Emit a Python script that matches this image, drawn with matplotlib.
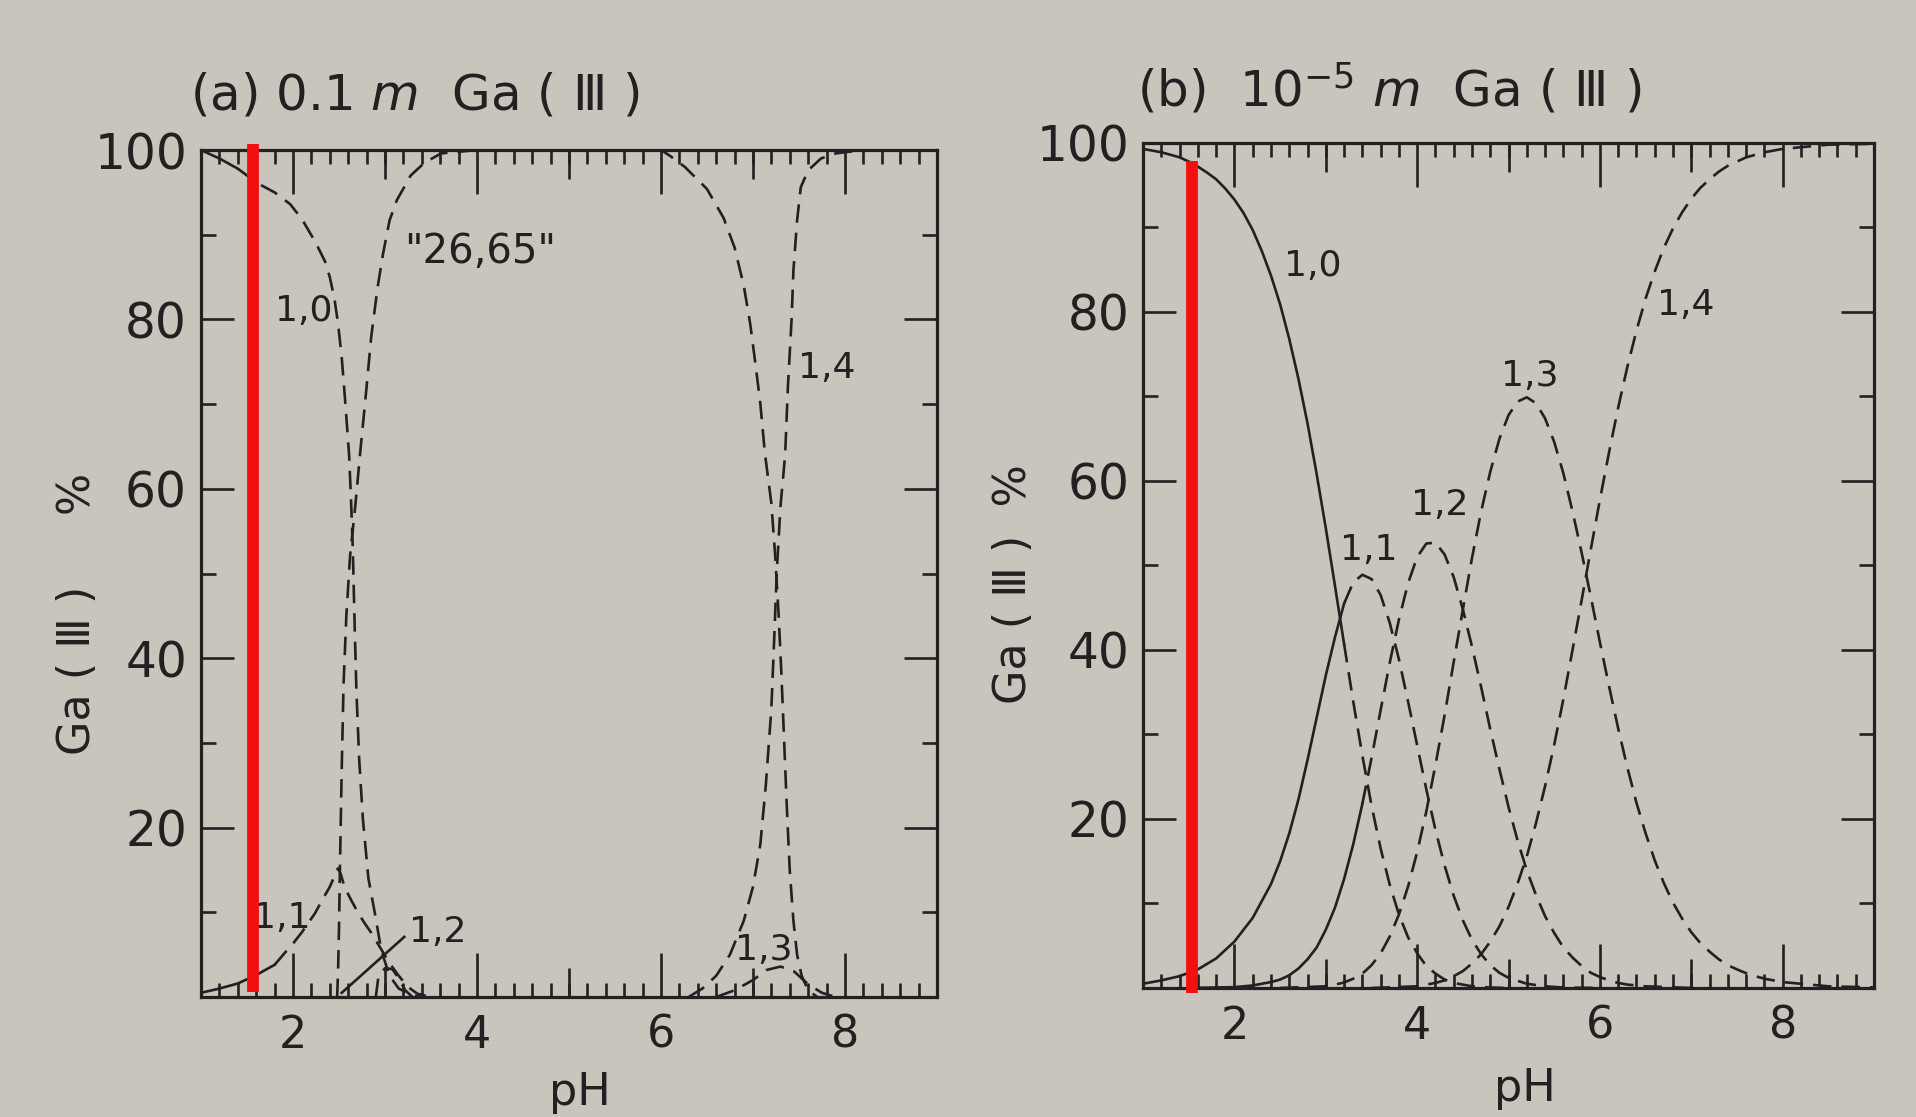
import numpy as np
import matplotlib
matplotlib.use("Agg")
import matplotlib.pyplot as plt
from matplotlib.ticker import FixedLocator, MultipleLocator, NullLocator

plt.rcParams['font.family'] = ['DejaVu Sans']
plt.rcParams['mathtext.fontset'] = 'dejavusans'

PAPER = '#c9c5bd'
INK = '#222020'
LW = 1.9
DASH = (0, (7.0, 3.8))

# ---------------- (a) 0.1 m Ga(III) ----------------
a10_ph = [1.0, 1.2, 1.4, 1.61, 1.8, 1.97, 2.1, 2.25, 2.35, 2.4, 2.45, 2.49, 2.53, 2.57,
          2.61, 2.63, 2.65, 2.67, 2.69, 2.72, 2.76, 2.82, 2.89, 2.96, 3.05, 3.15, 3.3, 3.4]
a10_pct = [100.0, 99.0, 97.8, 96.1, 95.0, 93.6, 91.8, 89.0, 86.8, 85.0, 82.5, 79.5, 75.5,
           70.0, 64.0, 59.0, 53.0, 44.0, 36.0, 28.0, 21.0, 14.0, 9.9, 5.5, 2.5, 1.0, 0.2, 0.0]
a10_solid_to = 1.4

a11_ph = [1.0, 1.2, 1.4, 1.6, 1.8, 1.91, 2.0, 2.1, 2.24, 2.32, 2.4, 2.46, 2.49, 2.52,
          2.56, 2.63, 2.71, 2.78, 2.85, 2.95, 3.05, 3.15, 3.25, 3.35, 3.5]
a11_pct = [0.5, 1.0, 1.6, 2.6, 3.8, 5.2, 6.3, 7.7, 9.9, 11.5, 13.0, 14.5, 15.2, 14.5,
           13.0, 11.5, 9.9, 8.7, 7.6, 5.8, 4.0, 2.5, 1.2, 0.4, 0.0]
a11_solid_to = 1.8

a12_line_ph = [2.53, 3.21]
a12_line_pct = [0.5, 7.1]
a12_ph = [2.9, 2.93, 3.0, 3.08, 3.15, 3.22, 3.3]
a12_pct = [0.0, 2.5, 3.4, 3.3, 2.2, 0.8, 0.0]

a13_ph = [6.6, 6.8, 7.0, 7.15, 7.3, 7.45, 7.6, 7.75, 7.9]
a13_pct = [0.0, 0.8, 2.0, 3.2, 3.6, 3.0, 1.5, 0.5, 0.0]

a14_ph = [6.3, 6.45, 6.6, 6.75, 6.9, 7.0, 7.08, 7.14, 7.2, 7.23, 7.26, 7.3, 7.35,
          7.38, 7.42, 7.44, 7.48, 7.52, 7.6, 7.74, 7.9, 8.2, 9.0]
a14_pct = [0.0, 1.0, 2.5, 5.0, 9.0, 13.0, 18.0, 25.0, 34.0, 42.0, 50.4, 58.0, 64.0,
           72.0, 80.0, 85.8, 91.7, 95.6, 97.6, 99.0, 99.6, 100.0, 100.0]

poly_ph = [2.48, 2.49, 2.5, 2.51, 2.53, 2.55, 2.58, 2.62, 2.68, 2.73, 2.8, 2.85, 2.92,
           2.98, 3.05, 3.13, 3.28, 3.43, 3.61, 4.0, 6.0, 6.1, 6.26, 6.5, 6.68, 6.8,
           6.9, 6.97, 7.03, 7.08, 7.13, 7.2, 7.24, 7.28, 7.31, 7.34, 7.37, 7.4, 7.44,
           7.48, 7.53, 7.6, 7.7]
poly_pct = [0.0, 3.0, 8.0, 15.0, 27.0, 37.0, 45.0, 52.0, 58.3, 64.2, 72.0, 77.9, 83.8,
            87.8, 91.7, 94.1, 97.0, 98.5, 99.6, 100.0, 100.0, 99.3, 98.0, 95.4, 92.0, 88.5,
            84.0, 79.5, 74.5, 70.1, 64.2, 58.3, 52.4, 45.0, 38.0, 30.0, 22.0, 15.0, 9.0,
            5.0, 2.5, 0.8, 0.0]

# ---------------- (b) 1e-5 m Ga(III) ----------------
b10_ph = [1.0, 1.1, 1.2, 1.3, 1.4, 1.5, 1.6, 1.7, 1.8, 1.9, 2.0, 2.1, 2.2, 2.3, 2.4,
          2.5, 2.6, 2.7, 2.8, 2.9, 3.0, 3.1, 3.2, 3.3, 3.4, 3.5, 3.6, 3.7, 3.8, 3.9,
          4.0, 4.1, 4.2, 4.3, 4.4, 4.5, 4.6, 4.8, 5.0]
b10_pct = [99.3, 99.1, 98.9, 98.6, 98.3, 97.8, 97.2, 96.5, 95.7, 94.6, 93.3, 91.7, 89.7,
           87.2, 84.3, 80.9, 76.8, 72.1, 66.8, 60.8, 54.4, 47.6, 40.7, 33.9, 27.5, 21.6,
           16.5, 12.2, 8.7, 6.0, 4.1, 2.6, 1.7, 1.0, 0.6, 0.4, 0.2, 0.05, 0.0]
b10_solid_to = 3.2

b11_ph = [1.0, 1.2, 1.4, 1.6, 1.8, 2.0, 2.2, 2.4, 2.5, 2.6, 2.7, 2.8, 2.9, 3.0, 3.1,
          3.2, 3.3, 3.4, 3.5, 3.6, 3.7, 3.8, 3.9, 4.0, 4.1, 4.2, 4.3, 4.4, 4.5, 4.6,
          4.7, 4.8, 4.9, 5.0, 5.2, 5.4, 5.6, 6.0]
b11_pct = [0.5, 0.9, 1.4, 2.2, 3.5, 5.5, 8.3, 12.3, 15.0, 18.3, 22.3, 27.0, 32.0, 37.0,
           41.5, 45.5, 48.0, 48.9, 48.4, 46.5, 43.2, 38.9, 33.9, 28.7, 23.5, 18.7, 14.5,
           10.9, 8.0, 5.7, 4.0, 2.7, 1.8, 1.2, 0.5, 0.2, 0.05, 0.0]
b11_solid_to = 3.2

b12_ph = [1.5, 2.0, 2.2, 2.4, 2.5, 2.6, 2.7, 2.8, 2.9, 3.0, 3.1, 3.2, 3.3, 3.4, 3.5,
          3.6, 3.7, 3.8, 3.9, 4.0, 4.1, 4.2, 4.3, 4.4, 4.5, 4.6, 4.7, 4.8, 4.9, 5.0,
          5.1, 5.2, 5.3, 5.4, 5.5, 5.6, 5.7, 5.8, 5.9, 6.0, 6.1, 6.2, 6.3, 6.4, 6.5, 7.0]
b12_pct = [0.0, 0.1, 0.3, 0.7, 1.0, 1.5, 2.3, 3.4, 4.8, 6.9, 9.5, 12.9, 17.0, 21.8, 27.2,
           32.9, 38.5, 43.6, 47.9, 51.0, 52.6, 52.7, 51.3, 48.6, 44.8, 40.4, 35.6, 30.6,
           25.9, 21.4, 17.4, 13.9, 11.0, 8.5, 6.5, 4.8, 3.6, 2.6, 1.8, 1.3, 0.9, 0.6, 0.4,
           0.3, 0.2, 0.0]
b12_solid_to = 3.4

b13_ph = [2.5, 3.0, 3.1, 3.2, 3.3, 3.4, 3.5, 3.6, 3.7, 3.8, 3.9, 4.0, 4.1, 4.2, 4.3,
          4.4, 4.5, 4.6, 4.7, 4.8, 4.9, 5.0, 5.1, 5.2, 5.3, 5.4, 5.5, 5.6, 5.7, 5.8,
          5.9, 6.0, 6.1, 6.2, 6.3, 6.4, 6.5, 6.6, 6.7, 6.8, 6.9, 7.0, 7.1, 7.2, 7.3,
          7.4, 7.5, 7.6, 7.7, 7.8, 7.9, 8.0, 8.5, 9.0]
b13_pct = [0.0, 0.2, 0.4, 0.65, 1.1, 1.7, 2.7, 4.1, 6.1, 8.7, 12.0, 16.1, 20.9, 26.4,
           32.3, 38.6, 44.8, 50.9, 56.4, 61.1, 65.0, 67.8, 69.4, 69.9, 69.2, 67.4, 64.6,
           60.9, 56.4, 51.5, 46.3, 40.9, 35.7, 30.7, 26.1, 21.9, 18.3, 15.1, 12.4, 10.1,
           8.2, 6.6, 5.3, 4.3, 3.4, 2.7, 2.2, 1.75, 1.4, 1.1, 0.9, 0.7, 0.2, 0.07]

b14_ph = [3.5, 4.0, 4.1, 4.2, 4.3, 4.4, 4.5, 4.6, 4.7, 4.8, 4.9, 5.0, 5.1, 5.2, 5.3,
          5.4, 5.5, 5.6, 5.7, 5.8, 5.9, 6.0, 6.1, 6.2, 6.3, 6.4, 6.5, 6.6, 6.7, 6.8,
          6.9, 7.0, 7.1, 7.2, 7.3, 7.4, 7.5, 7.6, 7.7, 7.8, 7.9, 8.0, 8.5, 9.0]
b14_pct = [0.0, 0.2, 0.4, 0.6, 0.9, 1.4, 2.0, 2.9, 4.0, 5.5, 7.3, 9.6, 12.4, 15.6, 19.5,
           23.9, 28.8, 34.2, 40.0, 45.9, 51.9, 57.8, 63.4, 68.7, 73.5, 77.8, 81.6, 84.8,
           87.6, 89.9, 91.8, 93.4, 94.7, 95.7, 96.6, 97.3, 97.8, 98.3, 98.6, 98.9, 99.1,
           99.3, 99.8, 99.9]

# red marker lines (pH, lower %, upper %)
marker_a = (1.57, 0.6, 100.7)
marker_b = (1.53, -0.6, 97.9)


def draw_species(ax, ph, pct, solid_to=None):
    ph = np.asarray(ph)
    pct = np.asarray(pct)
    if solid_to is None:
        ax.plot(ph, pct, color=INK, lw=LW, ls=DASH)
        return
    s = ph <= solid_to
    d = ph >= solid_to
    ax.plot(ph[s], pct[s], color=INK, lw=LW)
    ax.plot(ph[d], pct[d], color=INK, lw=LW, ls=DASH)


def style_axes(ax):
    ax.set_facecolor(PAPER)
    ax.set_xlim(1, 9)
    ax.set_ylim(0, 100)
    for s in ax.spines.values():
        s.set_linewidth(2.3)
        s.set_color(INK)
    ax.xaxis.set_major_locator(FixedLocator([2, 4, 6, 8]))
    ax.xaxis.set_minor_locator(MultipleLocator(0.2))
    ax.yaxis.set_major_locator(FixedLocator([20, 40, 60, 80, 100]))
    ax.yaxis.set_minor_locator(MultipleLocator(10))

    # odd pH values get mid-length ticks top and bottom
    tw = ax.twiny()
    tw.set_xlim(1, 9)
    tw.xaxis.set_major_locator(FixedLocator([3, 5, 7]))
    tw.xaxis.set_minor_locator(NullLocator())
    tw.tick_params(axis='x', which='major', direction='in', length=21, width=1.9,
                   color=INK, top=True, bottom=True, labeltop=False, labelbottom=False)
    for s in tw.spines.values():
        s.set_visible(False)

    ax.tick_params(which='both', direction='in', top=True, right=True,
                   width=1.9, color=INK, labelcolor=INK)
    ax.tick_params(axis='x', which='major', length=32, labelsize=32, pad=12)
    ax.tick_params(axis='x', which='minor', length=10)
    ax.tick_params(axis='y', which='major', length=24, labelsize=35, pad=10)
    ax.tick_params(axis='y', which='minor', length=11)


fig = plt.figure(figsize=(19.16, 11.17), dpi=100, facecolor=PAPER)
ax_a = fig.add_axes([0.1049, 0.1074, 0.3841, 0.7583])
ax_b = fig.add_axes([0.5966, 0.1155, 0.3815, 0.7565])
style_axes(ax_a)
style_axes(ax_b)

# panel (a)
draw_species(ax_a, a10_ph, a10_pct, a10_solid_to)
draw_species(ax_a, a11_ph, a11_pct, a11_solid_to)
ax_a.plot(a12_line_ph, a12_line_pct, color=INK, lw=LW)
draw_species(ax_a, a12_ph, a12_pct)
draw_species(ax_a, a13_ph, a13_pct)
draw_species(ax_a, a14_ph, a14_pct)
draw_species(ax_a, poly_ph, poly_pct)

lab = dict(color=INK, fontsize=26, ha='center', va='center')
ax_a.text(2.12, 81, '1,0', **lab)
ax_a.text(4.03, 88, '"26,65"', color=INK, fontsize=29, ha='center', va='center')
ax_a.text(1.88, 9.3, '1,1', **lab)
ax_a.text(3.57, 7.7, '1,2', **lab)
ax_a.text(7.12, 5.5, '1,3', **lab)
ax_a.text(7.8, 74.3, '1,4', **lab)

# panel (b)
draw_species(ax_b, b10_ph, b10_pct, b10_solid_to)
draw_species(ax_b, b11_ph, b11_pct, b11_solid_to)
draw_species(ax_b, b12_ph, b12_pct, b12_solid_to)
draw_species(ax_b, b13_ph, b13_pct)
draw_species(ax_b, b14_ph, b14_pct)

ax_b.text(2.86, 85.4, '1,0', **lab)
ax_b.text(3.47, 51.8, '1,1', **lab)
ax_b.text(4.25, 57.2, '1,2', **lab)
ax_b.text(5.23, 72.4, '1,3', **lab)
ax_b.text(6.94, 80.8, '1,4', **lab)

for ax, (ph, lo, hi) in ((ax_a, marker_a), (ax_b, marker_b)):
    ax.plot([ph, ph], [lo, hi], color='#f01010', lw=8.5, solid_capstyle='butt',
            clip_on=False, zorder=6)

# titles and axis labels
fig.text(190 / 1916, 1 - 95 / 1117, r'(a) 0.1 $m$  Ga ( Ⅲ )', fontsize=36,
         color=INK, ha='left', va='center')
fig.text(1137 / 1916, 1 - 89 / 1117, r'(b)  $10^{-5}$ $m$  Ga ( Ⅲ )', fontsize=36,
         color=INK, ha='left', va='center')
fig.text(77 / 1916, 1 - 614 / 1117, 'Ga ( Ⅲ )     %', fontsize=32, color=INK,
         rotation=90, ha='center', va='center')
fig.text(1014 / 1916, 1 - 584 / 1117, 'Ga ( Ⅲ )  %', fontsize=32, color=INK,
         rotation=90, ha='center', va='center')
fig.text(580 / 1916, 1 - 1093 / 1117, 'pH', fontsize=32, color=INK,
         ha='center', va='center')
fig.text(1525 / 1916, 1 - 1088 / 1117, 'pH', fontsize=32, color=INK,
         ha='center', va='center')

fig.savefig('out.png', dpi=100, facecolor=PAPER)
